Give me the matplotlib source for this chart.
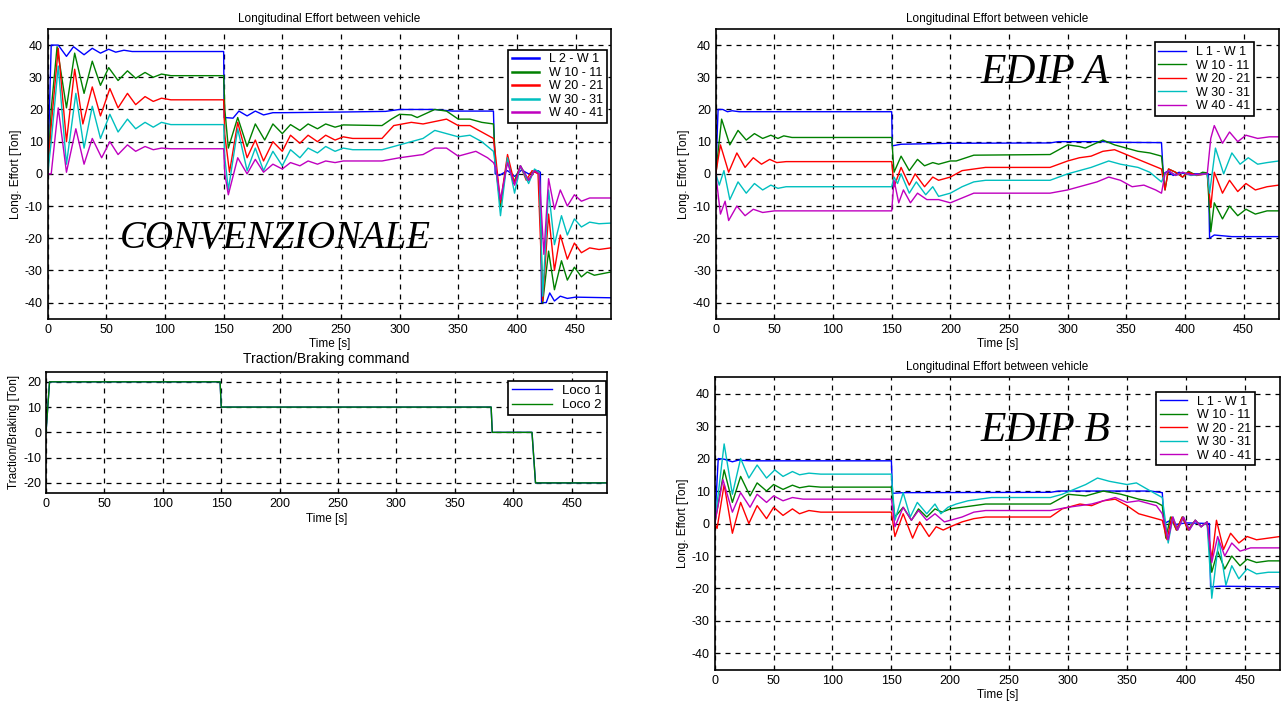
import matplotlib
matplotlib.use("Agg")
import matplotlib.pyplot as plt

plt.rcParams['font.family'] = ['Liberation Sans', 'DejaVu Sans']
plt.rcParams['axes.unicode_minus'] = False

# ---- data: (time [s], effort [Ton]) ----
conv_w1 = [(0,0),(3,40),(9,40),(16,36.5),(22,39.5),(31,37),(38,39),(45,37.5),(52,38.7),(58,37.8),(65,38.4),(72,38),
           (150,38),(150.5,17.5),(158,17.3),(163,19.5),(170,18),(177,19.5),(184,18.3),(192,19),(200,19),(250,19.2),
           (288,19.4),(300,20),(330,20),(345,19.5),(380,19.5),(381.5,0),(385,-0.5),(392,1),(398,-0.8),(404,1.2),
           (410,0),(418,1),(420,0.5),(421,-40),(425,-40),(428,-37),(432,-39.5),(437,-38),(443,-38.7),(450,-38.3),(480,-38.5)]
conv_w10 = [(0,0),(3,20),(8,39.5),(16,20.5),(23,37.5),(31,25),(38,35),(45,27.5),(52,33),(60,29),(68,32),(75,29.7),
            (83,31.5),(90,30),(97,31),(105,30.5),(150,30.5),(151,20),(154,8),(162,17.5),(170,8.5),(177,15.5),(185,10.5),
            (192,15.5),(200,12.5),(207,15.3),(215,13.5),(222,15.5),(230,14),(237,15.5),(245,14.5),(252,15.2),(285,15),
            (293,17),(300,18.5),(310,18.3),(315,17.5),(330,20),(340,19.5),(350,17),(360,17),(370,16),(380,15.5),(382,2),
            (386,-10),(392,5),(397,-3),(403,2.5),(410,-2),(415,1),(419,0.5),(422,-40),(427,-24),(432,-36),(438,-27),
            (443,-33),(449,-29),(455,-32),(460,-30.5),(466,-31.5),(480,-30.5)]
conv_w20 = [(0,0),(3,15),(9,39),(16,10),(23,32.5),(30,15.5),(38,27),(45,18),(53,26.5),(60,20.5),(68,25),(75,21.5),
            (83,24),(90,22.5),(97,23.5),(105,23),(150,23),(151,12),(155,0.5),(162,16),(170,5),(177,10.5),(184,4),
            (192,10),(200,7),(207,12),(215,9.5),(222,12),(230,10),(237,12),(245,10.5),(252,11.5),(260,11),(285,11),
            (295,15),(310,16),(320,15.5),(340,17),(350,15),(360,15),(370,13),(380,11),(382,5),(386,-9),(392,6),(398,-3),
            (403,2.5),(408,-2),(413,1),(418,0),(422,-39.5),(427,-12.5),(432,-30),(437,-19),(443,-26.5),(449,-21.5),
            (455,-24.5),(462,-23),(470,-23.5),(480,-23)]
conv_w30 = [(0,0),(3,10),(9,33.5),(16,3),(24,25),(31,8),(38,21),(45,11),(53,18.5),(60,13),(68,17),(75,14),(83,16),
            (90,14.5),(97,16),(105,15.3),(150,15.3),(151,5),(154,-5),(162,14),(170,1),(177,8),(184,1),(192,7),(200,2.5),
            (207,7.5),(215,5),(222,8),(230,6.5),(237,8.5),(245,7),(252,8),(260,7.5),(285,7.5),(300,9),(310,10),(320,11),
            (330,13.5),(340,12.5),(350,11.5),(360,12),(370,10),(380,7),(382,2),(386,-13),(392,5),(398,-6),(403,2.5),
            (410,-3),(415,1.5),(419,0.5),(422,-38),(427,-5),(432,-22),(438,-13),(443,-19),(449,-14),(455,-16.5),
            (462,-15),(470,-15.5),(480,-15.3)]
conv_w40 = [(0,0),(3,0),(9,20.5),(16,0.5),(24,14),(31,3),(38,11),(46,5),(53,10),(60,6),(68,9),(75,7),(83,8.5),
            (90,7.5),(97,8),(105,7.8),(150,7.8),(151,0),(154,-6.5),(162,5),(170,0),(177,4.5),(184,0.5),(192,3),(200,1.5),
            (207,3.5),(215,2.5),(222,4),(230,3),(237,4),(245,3.5),(252,4),(285,4),(300,5),(310,5.5),(320,6),(330,8),
            (340,8),(350,5.5),(365,7),(375,5),(380,3.5),(382,2),(386,-8),(392,3.5),(398,-3.5),(403,2.5),(410,-2),
            (415,1),(419,0),(423,-25),(427,-1.5),(432,-11),(437,-5),(443,-10),(449,-6.5),(455,-8.5),(462,-7.5),(480,-7.5)]

edipa_w1 = [(0,0),(2,20),(6,20),(10,19.3),(14,19.6),(20,19.3),(150,19.3),(150.5,8.7),(158,9.2),(200,9.5),(285,9.6),
            (292,10),(330,10),(340,9.8),(380,9.7),(381.5,0),(385,0.8),(390,-0.5),(395,0.5),(400,0),(420,0),(421,-20),
            (425,-19),(440,-19.5),(480,-19.5)]
edipa_w10 = [(0,0),(5,17),(12,9),(19,13.5),(26,10.5),(33,12.5),(40,11),(47,12),(53,11),(58,11.8),(65,11.3),(150,11.3),
             (152,0.5),(158,5.5),(165,1),(172,4.5),(178,2.5),(185,3.5),(190,3),(200,4),(205,4),(220,5.8),(285,6),(300,9),
             (310,8.5),(315,8),(330,10.5),(340,9),(350,8),(360,7),(370,6.5),(380,5.5),(383,-5),(386,1.5),(392,0.5),
             (398,-1),(403,0.8),(410,-0.5),(415,0.5),(419,0.3),(422,-18),(425,-9),(432,-14),(438,-10),(445,-13),
             (452,-11),(460,-12.5),(470,-11.5),(480,-11.5)]
edipa_w20 = [(0,0),(4,9),(11,0.5),(18,6.5),(25,2),(32,5),(39,3),(46,4.5),(52,3.5),(60,3.8),(150,3.8),(152,-4),(158,2),
             (165,-3.5),(170,0),(178,-4),(185,-1),(190,-2),(200,-1),(210,1),(220,1.5),(230,2),(285,2),(300,4),(310,5),
             (320,5.5),(330,7),(340,7.5),(350,6),(360,4.5),(370,3),(380,1.5),(383,-5),(386,1.5),(392,0.5),(398,-1),
             (403,0.5),(410,-0.5),(419,0),(422,-10.5),(425,0.5),(432,-6),(438,-2),(445,-5.5),(452,-3),(460,-5),
             (470,-4),(480,-3.5)]
edipa_w30 = [(0,0),(3,-3.5),(7,1),(12,-8),(19,-2.5),(26,-6),(33,-3),(40,-5),(47,-3.5),(53,-4.5),(60,-4),(150,-4),
             (152,-1),(155,-3),(158,0),(165,-6),(171,-2.5),(179,-6.5),(185,-4),(190,-7),(200,-6),(210,-4),(220,-2.5),
             (230,-2),(285,-2),(300,0),(320,2),(335,4),(345,3),(360,2),(370,0.5),(380,-2.5),(383,0),(386,1),(392,-0.5),
             (398,0.5),(405,-0.5),(419,0),(421,-6),(426,8),(433,0),(440,6.5),(447,3),(454,5),(462,3),(470,3.5),(480,4)]
edipa_w40 = [(0,0),(4,-12.5),(8,-8.5),(11,-14.5),(18,-10),(25,-13),(32,-11),(40,-12),(50,-11.5),(150,-11.5),(152,-2),
             (156,-9),(160,-5),(166,-9),(172,-6),(180,-8),(190,-8),(200,-9),(210,-7.5),(220,-6),(285,-6),(300,-5),
             (310,-4),(325,-2.5),(335,-1),(345,-2),(355,-4),(365,-3.5),(375,-5),(380,-6),(383,0),(386,1),(392,-0.5),
             (398,0.5),(405,-0.3),(419,0),(422,11),(425,15),(432,9.5),(438,13),(445,10),(452,12),(462,11),(472,11.5),
             (480,11.5)]

edipb_w1 = [(0,0),(3,20),(8,19.8),(15,19),(20,19.5),(30,19.3),(150,19.3),(151,9.3),(160,9.5),(285,9.6),(292,10),
            (370,10),(380,9.5),(381.5,0),(386,0.8),(392,-0.3),(400,0.2),(420,0),(421,-19.5),(430,-19.3),(480,-19.5)]
edipb_w10 = [(0,0),(8,16.5),(15,6.5),(22,14.5),(30,8.5),(36,12.5),(44,10),(50,12),(58,10.5),(66,11.8),(72,11),(80,11.5),
             (90,11.2),(150,11.2),(153,2),(160,5),(167,1),(173,4.5),(180,2),(187,4.5),(193,3.5),(200,4.5),(210,5),
             (220,5.5),(230,6),(285,6),(300,9),(315,8.5),(330,10),(345,9),(360,7.5),(375,6.5),(380,5.5),(383,-4.5),
             (387,2),(392,-2),(397,2),(402,-2),(408,1),(413,-1),(418,0.5),(422,-15),(427,-8.5),(433,-14),(439,-10),
             (446,-13),(452,-11),(460,-12),(470,-11.5),(480,-11.5)]
edipb_w20 = [(0,0),(2,-1.5),(8,12),(15,-3),(22,6.5),(29,0),(36,5.5),(44,1.5),(50,5),(58,2.5),(66,4.5),(72,3),(80,4),
             (90,3.5),(150,3.5),(153,-4),(160,3),(168,-4.5),(174,0.5),(182,-4),(188,-1),(194,-2),(200,-1),(210,0.5),
             (220,1.5),(230,2),(285,2),(295,4.5),(310,6),(320,5.5),(330,7),(340,7.5),(350,5.5),(360,3),(370,2),(380,1),
             (384,-5),(388,2),(392,-2),(397,2),(402,-2),(408,1),(413,-1),(418,0.5),(422,-11),(426,1),(432,-8),(438,-3),
             (445,-6),(452,-4),(460,-5),(470,-4.5),(480,-4)]
edipb_w30 = [(0,0),(8,24.5),(15,9),(22,20),(29,14),(36,18),(44,14),(51,16.5),(58,14.5),(66,16),(72,15),(80,15.5),
             (90,15.2),(150,15.2),(153,1),(160,9.5),(166,2),(172,6.5),(180,3),(187,6),(192,3),(198,5),(205,6),(215,7),
             (225,7.5),(235,8),(285,8),(295,9),(305,10.5),(315,12),(325,14),(335,13),(350,12),(358,12.5),(370,10),
             (380,8),(385,-6),(389,2),(393,-2),(398,2),(403,-2),(408,1),(413,-1),(418,0.5),(422,-23),(428,-5),(434,-19),
             (439,-13),(445,-17),(452,-14),(460,-15.5),(470,-15),(480,-15)]
edipb_w40 = [(0,0),(7,13.5),(15,3.5),(22,9.5),(30,5),(36,9),(44,6.5),(50,8.5),(58,7),(66,8),(75,7.5),(150,7.5),
             (153,-1),(160,5),(167,1),(173,4),(180,1),(187,3),(195,0.5),(200,1),(210,2),(220,3.5),(230,4),(285,4),
             (300,5),(310,5.5),(320,6),(330,7),(340,8),(350,6.5),(360,7),(375,5.5),(380,3),(385,-5),(389,2),(393,-2),
             (398,2),(403,-2),(408,1),(413,-1),(418,0.5),(422,-12),(427,-4),(433,-10),(439,-6),(446,-8.5),(455,-7.5),
             (480,-7.5)]

loco1 = [(0,0),(3,20),(149,20),(150,10),(381,10),(382,0),(416,0),(419,-20),(480,-20)]
loco2 = [(0,0),(3,20),(149,20),(150,10),(381,10),(382,0),(416,0),(419,-20),(480,-20)]

labels_conv = ['L 2 - W 1', 'W 10 - 11', 'W 20 - 21', 'W 30 - 31', 'W 40 - 41']
labels_edip = ['L 1 - W 1', 'W 10 - 11', 'W 20 - 21', 'W 30 - 31', 'W 40 - 41']
colors = ['#0000ff', '#008000', '#ff0000', '#00bfbf', '#bf00bf']


def style(ax, ylim, yticks):
    ax.set_xlim(0, 480)
    ax.set_ylim(*ylim)
    ax.set_xticks(range(0, 451, 50))
    ax.set_yticks(yticks)
    ax.grid(True, color='k', linestyle=(0, (4, 4)), linewidth=0.9)
    ax.tick_params(direction='in', length=3, labelsize=9, color='k')
    for s in ax.spines.values():
        s.set_linewidth(1.2)


def effort_panel(ax, series, labels, tag, tag_xy, leg_anchor, leg_lw):
    for data, lab, c in zip(series, labels, colors):
        t = [p[0] for p in data]
        v = [p[1] for p in data]
        ax.plot(t, v, color=c, lw=1.0, label=lab)
    style(ax, (-45, 45), range(-40, 41, 10))
    ax.set_title('Longitudinal Effort between vehicle', fontsize=8.5, pad=5)
    ax.set_xlabel('Time [s]', fontsize=8.5, labelpad=2)
    ax.set_ylabel('Long. Effort [Ton]', fontsize=8.5, labelpad=2)
    leg = ax.legend(loc='upper right', bbox_to_anchor=leg_anchor, fontsize=9, fancybox=False,
                    edgecolor='k', framealpha=1, handlelength=2.2, borderpad=0.3, labelspacing=0.12)
    leg.get_frame().set_linewidth(1.2)
    for h in leg.get_lines():
        h.set_linewidth(leg_lw)
    ax.text(tag_xy[0], tag_xy[1], tag, fontsize=28 if len(tag) > 8 else 30, style='italic',
            family='Liberation Serif', ha='center', va='center')


fig = plt.figure(figsize=(12.82, 7.02), dpi=100)

ax1 = fig.add_axes([0.0372, 0.546, 0.4392, 0.4127])
effort_panel(ax1, [conv_w1, conv_w10, conv_w20, conv_w30, conv_w40], labels_conv,
             'CONVENZIONALE', (194, -20), (1.005, 0.95), 1.8)

ax2 = fig.add_axes([0.5583, 0.546, 0.4392, 0.4127])
effort_panel(ax2, [edipa_w1, edipa_w10, edipa_w20, edipa_w30, edipa_w40], labels_edip,
             'EDIP A', (281, 31.5), (0.967, 0.975), 1.0)

ax4 = fig.add_axes([0.5575, 0.046, 0.441, 0.4165])
effort_panel(ax4, [edipb_w1, edipb_w10, edipb_w20, edipb_w30, edipb_w40], labels_edip,
             'EDIP B', (281, 28.5), (0.967, 0.972), 1.0)

ax3 = fig.add_axes([0.0359, 0.2977, 0.4374, 0.1728])
ax3.plot([p[0] for p in loco1], [p[1] for p in loco1], color='#0000ff', lw=1.0, label='Loco 1')
ax3.plot([p[0] for p in loco2], [p[1] for p in loco2], color='#008000', lw=1.0, label='Loco 2')
style(ax3, (-24, 24), range(-20, 21, 10))
ax3.set_title('Traction/Braking command', fontsize=10, pad=6)
ax3.set_xlabel('Time [s]', fontsize=8.5, labelpad=2)
ax3.set_ylabel('Traction/Braking [Ton]', fontsize=8.5, labelpad=2)
leg = ax3.legend(loc='upper right', bbox_to_anchor=(1.01, 0.98), fontsize=9.5, fancybox=False,
                 edgecolor='k', framealpha=1, handlelength=3, borderpad=0.3, labelspacing=0.15)
leg.get_frame().set_linewidth(1.2)

fig.savefig('out.png', dpi=100)
